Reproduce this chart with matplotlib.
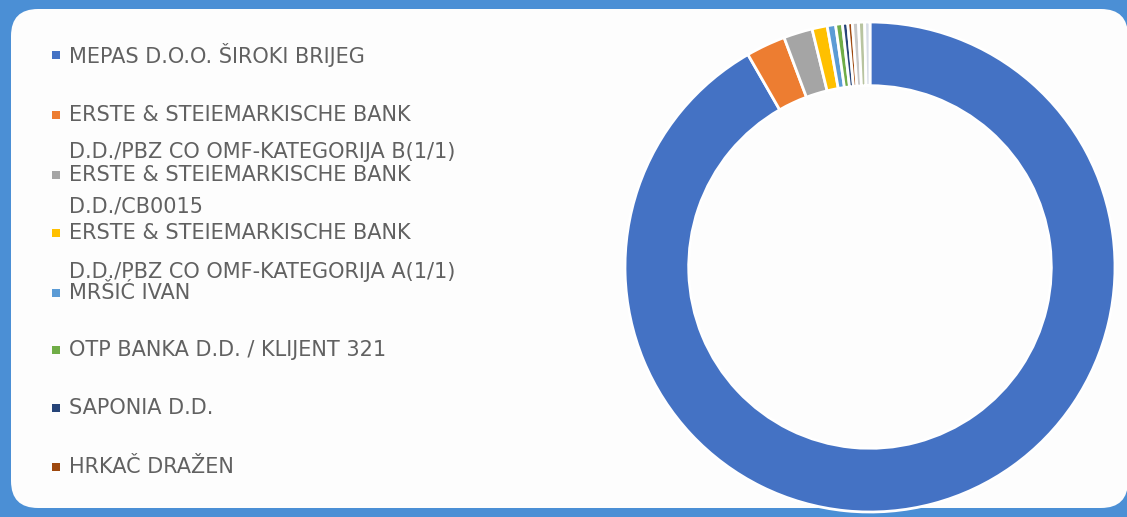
import matplotlib
matplotlib.use("Agg")
import matplotlib.pyplot as plt
from matplotlib.patches import FancyBboxPatch, Rectangle

# shareholders (share of capital, %)
labels = [
    ["MEPAS D.O.O. ŠIROKI BRIJEG"],
    ["ERSTE & STEIEMARKISCHE BANK", "D.D./PBZ CO OMF-KATEGORIJA B(1/1)"],
    ["ERSTE & STEIEMARKISCHE BANK", "D.D./CB0015"],
    ["ERSTE & STEIEMARKISCHE BANK", "D.D./PBZ CO OMF-KATEGORIJA A(1/1)"],
    ["MRŠIĆ IVAN"],
    ["OTP BANKA D.D. / KLIJENT 321"],
    ["SAPONIA D.D."],
    ["HRKAČ DRAŽEN"],
]
shares = [91.7, 2.6, 1.9, 1.0, 0.55, 0.45, 0.35, 0.3]
colors = ["#4472C4", "#ED7D31", "#A5A5A5", "#FFC000", "#5B9BD5", "#70AD47", "#264478", "#9E480E"]
# small remaining holders, not in legend
other_shares = [0.4, 0.4, 0.35]
other_colors = ["#c8c8c8", "#b8c4a0", "#d6dce6"]

W, H = 1127, 517
fig = plt.figure(figsize=(W / 100, H / 100), dpi=100)
fig.patch.set_facecolor("#4b8fd5")

# white rounded panel
panel = FancyBboxPatch((11 / W, 9 / H), (W + 1 - 11) / W, (508 - 9) / H,
                       boxstyle="round,pad=0,rounding_size=0.024",
                       transform=fig.transFigure, facecolor="#fdfdfd",
                       edgecolor="none", mutation_aspect=W / H, zorder=-5)
fig.patches.append(panel)

# doughnut
cx, cy, R = 870, 267, 245
ax = fig.add_axes([(cx - R) / W, (H - cy - R) / H, 2 * R / W, 2 * R / H])
ax.set_zorder(2)
ax.pie(shares + other_shares, colors=colors + other_colors, radius=1,
       startangle=90, counterclock=False,
       wedgeprops=dict(width=0.26, edgecolor="white", linewidth=2))
ax.set_xlim(-1, 1)
ax.set_ylim(-1, 1)
ax.axis("off")
for p in ax.patches:
    p.set_clip_on(False)

# legend drawn by hand
row_y = [[55], [115, 152], [175, 207], [233, 272], [293], [350], [408], [467]]
txt_kw = dict(fontsize=15, color="#616161", family=["DejaVu Sans"],
              va="center", ha="left")
for lab, col, ys in zip(labels, colors, row_y):
    y0 = ys[0]
    fig.patches.append(Rectangle((52 / W, (H - y0 - 4) / H), 8 / W, 8 / H,
                                 transform=fig.transFigure, facecolor=col,
                                 edgecolor="none"))
    for line, y in zip(lab, ys):
        fig.text(69 / W, (H - y) / H, line, **txt_kw)

fig.savefig("out.png", dpi=100, facecolor=fig.get_facecolor())
